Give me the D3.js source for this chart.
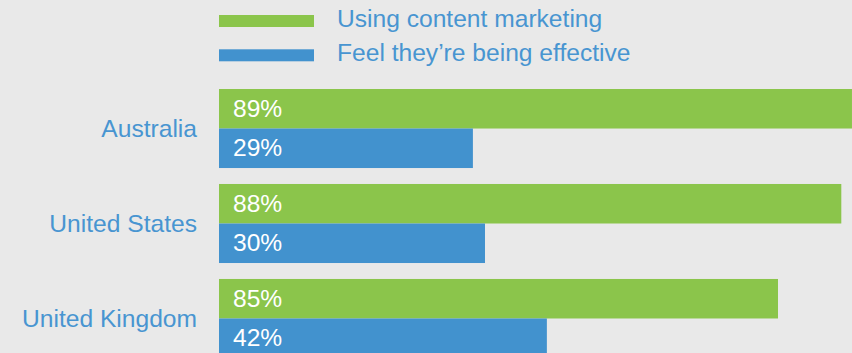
<!DOCTYPE html>
<html lang="en">
<head>
<meta charset="UTF-8">
<title>Content marketing by country</title>
<script src="https://cdn.jsdelivr.net/npm/d3@7"></script>
<style>
  html, body { margin: 0; padding: 0; background: #e9e9e9; overflow: hidden; }
  svg { display: block; }
  text { font-family: "Liberation Sans", Arial, Helvetica, sans-serif; }
</style>
</head>
<body>
<svg width="852" height="353"></svg>
<script>
    // data
    const countries = ["Australia", "United States", "United Kingdom"];
    const seriesNames = ["Using content marketing", "Feel they\u2019re being effective"];
    const usingLabels = ["89%", "88%", "85%"];
    const effectiveLabels = ["29%", "30%", "42%"];
    // bar lengths as drawn in the picture (percent units, the drawn bars are not to one scale)
    const usingLength = [89, 87.5, 78.6];
    const effectiveLength = [35.7, 37.4, 46.1];

    const width = 852, height = 353;
    const left = 219;
    const fs = "24.6px";
    const green = "#8bc54b", blue = "#4292ce", textBlue = "#4895d1";

    const svg = d3.select("svg");

    const x = d3.scaleLinear().domain([0, 100]).range([left, left + 711.2]);
    const y = d3.scaleBand().domain(countries).range([89, 358]).paddingInner(0.168).paddingOuter(0);
    const sub = d3.scaleBand().domain(["using", "effective"]).range([0, y.bandwidth()]);
    const color = d3.scaleOrdinal().domain(["using", "effective"]).range([green, blue]);

    // legend
    const legend = svg.append("g");
    ["using", "effective"].forEach((k, i) => {
        const cy = 21 + i * 34.3;
        legend.append("rect")
            .attr("x", left).attr("y", cy - 6)
            .attr("width", 95).attr("height", 12)
            .attr("fill", color(k));
        legend.append("text")
            .attr("x", 337).attr("y", cy + 6)
            .attr("fill", textBlue)
            .style("font-size", fs)
            .text(seriesNames[i]);
    });

    const rows = countries.map((c, i) => ({
        country: c,
        bars: [
            {key: "using", len: usingLength[i], label: usingLabels[i]},
            {key: "effective", len: effectiveLength[i], label: effectiveLabels[i]}
        ]
    }));

    const g = svg.selectAll("g.country")
        .data(rows)
        .join("g")
        .attr("class", "country")
        .attr("transform", d => `translate(0,${y(d.country)})`);

    g.append("text")
        .attr("x", 197)
        .attr("y", y.bandwidth() / 2)
        .attr("dy", "0.35em")
        .attr("text-anchor", "end")
        .attr("fill", textBlue)
        .style("font-size", fs)
        .text(d => d.country);

    const bar = g.selectAll("g.bar")
        .data(d => d.bars)
        .join("g")
        .attr("class", "bar")
        .attr("transform", d => `translate(0,${sub(d.key)})`);

    bar.append("rect")
        .attr("x", x(0))
        .attr("width", d => x(d.len) - x(0))
        .attr("height", sub.bandwidth())
        .attr("fill", d => color(d.key));

    bar.append("text")
        .attr("x", x(0) + 14)
        .attr("y", sub.bandwidth() / 2)
        .attr("dy", "0.32em")
        .attr("fill", "#ffffff")
        .style("font-size", fs)
        .text(d => d.label);
</script>
</body>
</html>
